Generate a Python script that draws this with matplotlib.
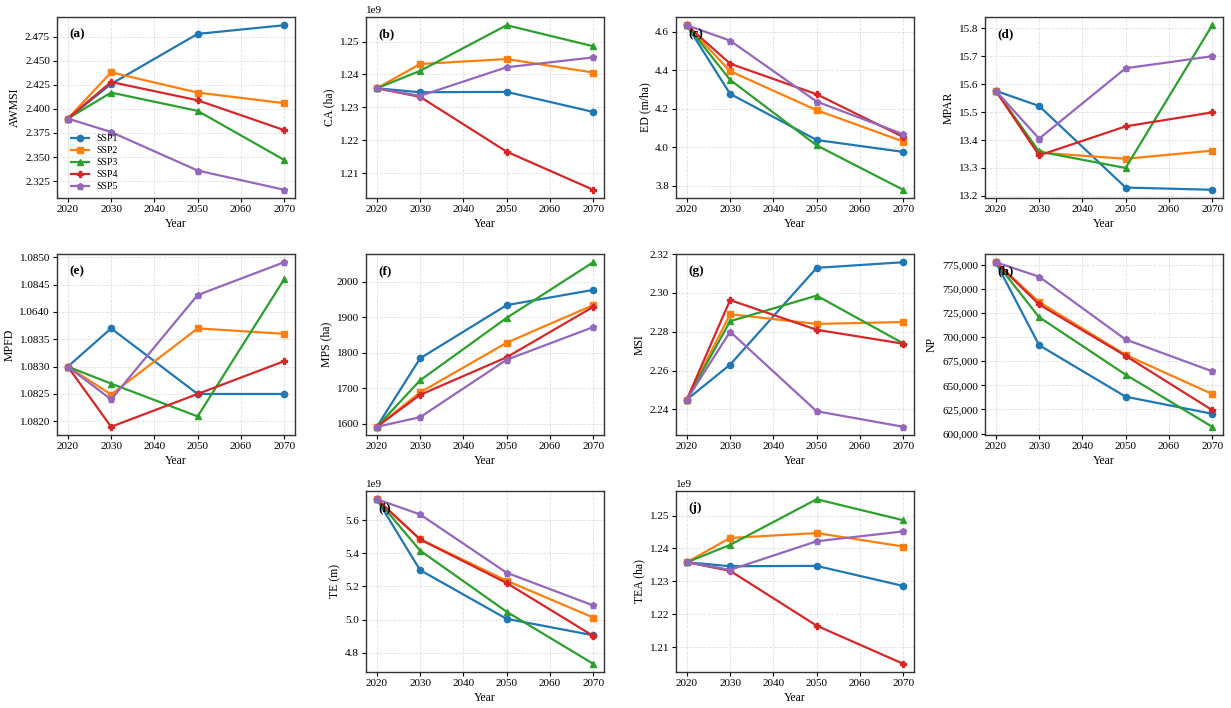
import numpy as np
import matplotlib
matplotlib.use('Agg')
import matplotlib.pyplot as plt
from matplotlib.ticker import FuncFormatter, MultipleLocator

plt.rcParams['font.family'] = ['Liberation Serif', 'DejaVu Serif']
plt.rcParams['font.size'] = 8
plt.rcParams['axes.edgecolor'] = '#333333'
plt.rcParams['axes.linewidth'] = 1.0

# dados
years = [2020, 2030, 2050, 2070]
scenarios = ['SSP1', 'SSP2', 'SSP3', 'SSP4', 'SSP5']
colors = ['#1f77b4', '#ff7f0e', '#2ca02c', '#d62728', '#9467bd']
markers = ['o', 's', '^', 'P', 'p']

awmsi = [[2.390, 2.426, 2.478, 2.487],
         [2.390, 2.438, 2.417, 2.406],
         [2.390, 2.417, 2.398, 2.347],
         [2.390, 2.428, 2.409, 2.378],
         [2.390, 2.376, 2.336, 2.316]]

ca = [[1.2358e9, 1.2346e9, 1.2347e9, 1.2286e9],
      [1.2358e9, 1.2432e9, 1.2447e9, 1.2406e9],
      [1.2358e9, 1.2411e9, 1.2550e9, 1.2486e9],
      [1.2358e9, 1.2332e9, 1.2165e9, 1.2049e9],
      [1.2358e9, 1.2335e9, 1.2422e9, 1.2452e9]]

ed = [[4.635, 4.278, 4.038, 3.976],
      [4.635, 4.396, 4.193, 4.030],
      [4.635, 4.351, 4.010, 3.779],
      [4.635, 4.435, 4.276, 4.054],
      [4.635, 4.555, 4.238, 4.068]]

mpar = [[15.576, 15.522, 15.230, 15.222],
        [15.576, 15.355, 15.333, 15.362],
        [15.576, 15.359, 15.300, 15.811],
        [15.576, 15.345, 15.449, 15.499],
        [15.576, 15.405, 15.657, 15.700]]
mpar_ticks = [15.2, 15.3, 15.4, 15.5, 15.6, 15.7, 15.8]
mpar_labels = ['13.2', '13.3', '13.4', '15.5', '15.6', '15.7', '15.8']

mpfd = [[1.0830, 1.08370, 1.08250, 1.08250],
        [1.0830, 1.08249, 1.08370, 1.08360],
        [1.0830, 1.08269, 1.08209, 1.08460],
        [1.0830, 1.08190, 1.08250, 1.08310],
        [1.0830, 1.08240, 1.08431, 1.08491]]
mpfd_ticks = [1.0820, 1.0825, 1.0830, 1.0835, 1.0840, 1.0845, 1.0850]
mpfd_labels = ['1.0820', '1.0825', '1.0830', '1.0835', '1.0640', '1.0845', '1.0850']

mps = [[1591, 1784, 1934, 1977],
       [1591, 1688, 1828, 1934],
       [1591, 1722, 1898, 2055],
       [1591, 1681, 1787, 1929],
       [1591, 1618, 1780, 1872]]

msi = [[2.245, 2.263, 2.3129, 2.3158],
       [2.245, 2.289, 2.284, 2.285],
       [2.245, 2.2854, 2.2986, 2.274],
       [2.245, 2.2963, 2.281, 2.2738],
       [2.245, 2.280, 2.239, 2.231]]

np_ = [[777800, 691700, 638200, 620500],
       [777800, 736500, 681600, 641000],
       [777800, 720800, 661100, 607000],
       [777800, 734000, 680600, 624300],
       [777800, 762800, 697600, 664600]]

te = [[5.7256e9, 5.298e9, 5.004e9, 4.905e9],
      [5.7256e9, 5.485e9, 5.234e9, 5.012e9],
      [5.7256e9, 5.416e9, 5.047e9, 4.733e9],
      [5.7256e9, 5.483e9, 5.220e9, 4.901e9],
      [5.7256e9, 5.634e9, 5.282e9, 5.085e9]]

tea = ca

# (rótulo, eixo y, dados, passo dos ticks)
panels = [('(a)', 'AWMSI', awmsi, 0.025), ('(b)', 'CA (ha)', ca, 0.01e9),
          ('(c)', 'ED (m/ha)', ed, 0.2), ('(d)', 'MPAR', mpar, None),
          ('(e)', 'MPFD', mpfd, None), ('(f)', 'MPS (ha)', mps, 100),
          ('(g)', 'MSI', msi, 0.02), ('(h)', 'NP', np_, 25000),
          ('(i)', 'TE (m)', te, 0.2e9), ('(j)', 'TEA (ha)', tea, 0.01e9)]

# posições (linha, coluna)
slots = [(0, 0), (0, 1), (0, 2), (0, 3), (1, 0), (1, 1), (1, 2), (1, 3), (2, 1), (2, 2)]
col_left = [57, 366, 676, 985]
row_bottom = [198, 435, 672]
W, H = 1231, 708

fig = plt.figure(figsize=(12.31, 7.08), dpi=100)

for (tag, ylab, data, step), (r, c) in zip(panels, slots):
    ax = fig.add_axes([col_left[c] / W, (H - row_bottom[r]) / H, 238 / W, 181 / H])
    for i in range(5):
        ax.plot(years, data[i], color=colors[i], marker=markers[i], markersize=4.5,
                linewidth=1.6, label=scenarios[i])
    ax.set_xticks([2020, 2030, 2040, 2050, 2060, 2070])
    ax.set_xlabel('Year', fontsize=8.5, labelpad=3)
    ax.set_ylabel(ylab, fontsize=8.5, labelpad=3)
    ax.grid(True, linestyle='--', color='#cccccc', alpha=0.6, linewidth=0.6)
    ax.tick_params(length=3, width=0.8, labelsize=8, pad=2)
    ax.text(0.05, 0.94, tag, transform=ax.transAxes, va='top', ha='left',
            fontsize=9.5, fontweight='bold')
    if step is not None:
        ax.yaxis.set_major_locator(MultipleLocator(step))
    if tag == '(a)':
        ax.legend(loc='lower left', frameon=False, fontsize=7, handlelength=1.9,
                  labelspacing=0.3, bbox_to_anchor=(0.02, -0.01))
    if tag == '(d)':
        ax.set_yticks(mpar_ticks)
        ax.set_yticklabels(mpar_labels)
    if tag == '(e)':
        ax.set_yticks(mpfd_ticks)
        ax.set_yticklabels(mpfd_labels)
    if tag == '(h)':
        ax.yaxis.set_major_formatter(FuncFormatter(lambda v, p: '{:,.0f}'.format(v)))

fig.savefig('out.png', dpi=100)
